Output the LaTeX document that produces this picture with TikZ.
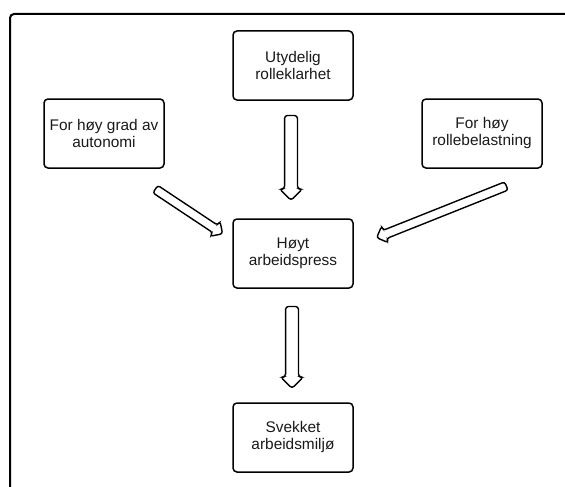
\documentclass[tikz,border=0pt]{standalone}
\usepackage{fontspec}
\setmainfont{Liberation Sans}
\usetikzlibrary{shapes.arrows}
\tikzset{
	boks/.style={draw=black, line width=1.5pt, rounded corners=4pt, minimum width=120pt, minimum height=69pt, inner sep=0pt, align=center, text=black!90, font=\fontsize{15.4}{17}\selectfont},
	pil/.style={draw=black, line width=1.4pt, single arrow, single arrow head extend=5pt, inner xsep=0pt, inner ysep=5.75pt, rounded corners=3pt, sloped, allow upside down, anchor=tail, pos=0},
	smalpil/.style={pil, single arrow head extend=4.5pt, inner ysep=3.75pt, rounded corners=2.5pt}
}
\begin{document}
\begin{tikzpicture}[x=1pt, y=-1pt]
	\useasboundingbox (0,0) rectangle (565,487);
	\clip (0,0) rectangle (565,487);
	% ramme
	\draw[line width=2pt, rounded corners=4pt] (580,14) -- (10,14) -- (10,500);
	% boksene
	\node[boks] (b1) at (293,65.5) {Utydelig\\rolleklarhet};
	\node[boks] (b2) at (104,133.5) {For høy grad av\\autonomi};
	\node[boks] (b3) at (482,133.5) {For høy\\rollebelastning};
	\node[boks] (b4) at (293,253.5) {Høyt\\arbeidspress};
	\node[boks] (b5) at (293,437.5) {Svekket\\arbeidsmiljø};
	% pilene
	\path ([shift={(-2,14)}]b1.south) -- node[pil, minimum height=85pt] (p1) {} ([shift={(-2,-20)}]b4.north);
	\path ([shift={(-10,20)}]b2.south east) -- node[smalpil, minimum height=80.7pt] (p2) {} ([shift={(-12,14)}]b4.north west);
	\path ([shift={(25,17)}]b3.south) -- node[smalpil, minimum height=139.6pt] (p3) {} ([shift={(24,19)}]b4.north east);
	\path ([shift={(-1,17)}]b4.south) -- node[pil, minimum height=82pt] (p4) {} ([shift={(-1,-16)}]b5.north);
\end{tikzpicture}
\end{document}
